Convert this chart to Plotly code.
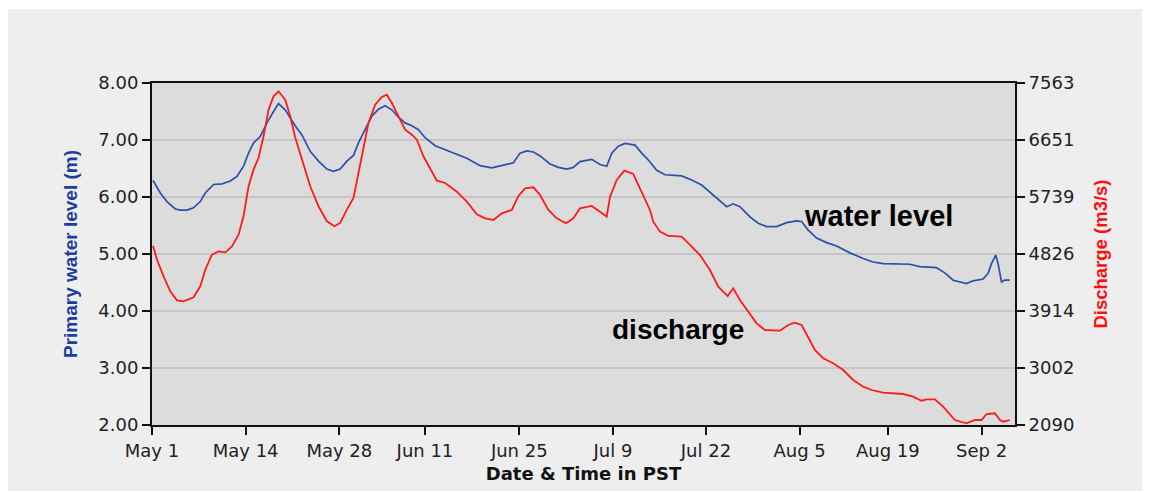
import plotly.graph_objects as go

# ---- data (x in days since May 1, 00:00) ----
level_days = [0.15, 1.24, 2.24, 3.48, 4.23, 5.23, 6.21, 7.22, 7.96, 9.20, 10.46, 11.70, 12.70, 13.68,
              14.43, 15.18, 16.18, 17.18, 18.17, 18.91, 19.91, 20.91, 21.40, 22.41, 23.65, 24.89,
              26.14, 27.13, 28.13, 29.13, 30.12, 30.86, 31.86, 32.87, 33.85, 34.85, 35.85, 36.84,
              37.84, 38.84, 39.83, 40.83, 42.32, 43.82, 45.06, 47.06, 49.04, 50.79, 52.52, 54.02,
              55.02, 56.02, 57.01, 58.01, 59.50, 60.74, 62.00, 62.98, 63.98, 65.73, 66.97, 67.97,
              68.72, 69.70, 70.70, 72.20, 73.20, 74.19, 75.44, 76.68, 79.17, 80.67, 82.16, 83.66,
              84.90, 85.90, 86.88, 87.88, 89.38, 90.62, 91.87, 93.37, 94.86, 96.36, 97.10, 98.09,
              99.34, 100.84, 102.33, 104.32, 106.30, 107.80, 109.29, 113.28, 114.77, 117.27,
              118.51, 119.75, 121.75, 122.74, 124.23, 124.98, 125.48, 126.13, 126.47, 126.98,
              127.47, 128.22]
level_m = [6.29, 6.07, 5.92, 5.79, 5.77, 5.77, 5.81, 5.92, 6.07, 6.22, 6.23, 6.28, 6.36, 6.54,
           6.77, 6.95, 7.06, 7.30, 7.50, 7.64, 7.53, 7.33, 7.25, 7.09, 6.80, 6.63,
           6.49, 6.45, 6.49, 6.63, 6.73, 6.95, 7.18, 7.42, 7.54, 7.60, 7.53, 7.40,
           7.30, 7.25, 7.18, 7.04, 6.90, 6.83, 6.78, 6.68, 6.55, 6.51, 6.56, 6.60,
           6.77, 6.81, 6.79, 6.72, 6.58, 6.52, 6.49, 6.52, 6.62, 6.66, 6.57, 6.54,
           6.77, 6.89, 6.94, 6.91, 6.77, 6.65, 6.47, 6.39, 6.37, 6.30, 6.21, 6.06,
           5.92, 5.83, 5.88, 5.83, 5.65, 5.54, 5.48, 5.48, 5.55, 5.58, 5.57, 5.42,
           5.28, 5.20, 5.14, 5.02, 4.92, 4.86, 4.83, 4.82, 4.78, 4.76,
           4.67, 4.54, 4.48, 4.53, 4.56, 4.66, 4.83, 4.98, 4.83, 4.51,
           4.54, 4.54]

flow_days = [0.15, 0.75, 1.73, 2.73, 3.73, 4.72, 6.21, 7.22, 7.96, 8.96, 9.95, 10.95, 11.95, 12.94,
             13.68, 14.43, 15.18, 15.92, 16.67, 17.42, 18.17, 18.91, 19.91, 20.66, 21.41, 22.41,
             23.65, 24.89, 26.14, 27.28, 28.13, 29.13, 30.12, 30.86, 31.61, 32.36, 33.36, 34.36,
             35.11, 35.85, 36.84, 37.84, 38.84, 39.59, 40.57, 41.57, 42.58, 43.82, 45.56, 47.06,
             48.55, 49.79, 51.03, 52.29, 53.78, 54.77, 55.77, 57.01, 58.01, 59.25, 60.50, 61.89,
             62.98, 63.98, 65.73, 66.97, 67.97, 68.47, 69.47, 70.60, 71.94, 72.69, 73.69, 74.43,
             74.93, 75.93, 77.17, 79.17, 80.42, 81.91, 83.40, 84.64, 86.05, 86.88, 87.88, 89.12,
             90.38, 91.62, 93.86, 95.10, 96.10, 97.10, 98.09, 99.09, 100.33, 101.82, 103.32,
             104.81, 106.30, 107.56, 109.29, 112.28, 113.78, 115.03, 115.78, 117.02, 118.26,
             120.01, 121.75, 123.00, 124.00, 124.75, 126.00, 126.75, 127.25, 128.22]
flow_m3s = [4959, 4735, 4469, 4229, 4085, 4069, 4133, 4310, 4575, 4815, 4869, 4853, 4949, 5135,
            5430, 5910, 6176, 6363, 6710, 7136, 7350, 7430, 7296, 7030, 6690, 6336,
            5910, 5590, 5350, 5270, 5323, 5536, 5723, 6123, 6550, 6923, 7216, 7339,
            7376, 7243, 7030, 6816, 6736, 6656, 6390, 6203, 6000, 5963, 5824, 5664,
            5462, 5398, 5371, 5478, 5531, 5755, 5877, 5894, 5771, 5531, 5398, 5318,
            5398, 5558, 5595, 5504, 5424, 5744, 6011, 6160, 6107, 5931, 5691, 5531,
            5344, 5184, 5115, 5104, 4971, 4810, 4570, 4303, 4154, 4277, 4090, 3903,
            3717, 3610, 3599, 3690, 3727, 3690, 3503, 3290, 3157, 3077, 2970,
            2810, 2703, 2650, 2607, 2586, 2543, 2479, 2501, 2501, 2383,
            2170, 2117, 2170, 2170, 2266, 2277, 2170, 2143, 2170]

x_tick_vals = [0, 14.0, 28.0, 40.8, 54.9, 68.9, 82.8, 96.8, 110.0, 124.0]
x_tick_text = ["May 1", "May 14", "May 28", "Jun 11", "Jun 25", "Jul 9", "Jul 22", "Aug 5", "Aug 19", "Sep 2"]
y_tick_vals = [2, 3, 4, 5, 6, 7, 8]
y_tick_text = ["2.00", "3.00", "4.00", "5.00", "6.00", "7.00", "8.00"]
y2_tick_vals = [2090, 3002.17, 3914.33, 4826.5, 5738.67, 6650.83, 7563]
y2_tick_text = ["2090", "3002", "3914", "4826", "5739", "6651", "7563"]

fig = go.Figure()
fig.add_trace(go.Scatter(x=level_days, y=level_m, mode="lines", name="water level",
                         line=dict(color="#2a50ac", width=1.7)))
fig.add_trace(go.Scatter(x=flow_days, y=flow_m3s, mode="lines", name="discharge", yaxis="y2",
                         line=dict(color="#ff1a1a", width=1.8)))

tickfont = dict(family="DejaVu Sans", size=18, color="#222222")

fig.update_layout(
    width=1143, height=485,
    margin=dict(l=144, r=136, t=75, b=68, pad=0),
    paper_bgcolor="#eeeeee",
    plot_bgcolor="#dcdcdc",
    showlegend=False,
    xaxis=dict(range=[0, 129.0], tickmode="array", tickvals=x_tick_vals, ticktext=x_tick_text,
               showgrid=False, zeroline=False, showline=True, linecolor="#111111", linewidth=2,
               mirror=True, ticks="outside", ticklen=8, tickwidth=1.5, tickcolor="#111111",
               tickfont=tickfont, automargin=False,
               title=dict(text="<b>Date & Time in PST</b>", standoff=8,
                          font=dict(family="DejaVu Sans", size=18, color="#111111"))),
    yaxis=dict(range=[2, 8], tickmode="array", tickvals=y_tick_vals, ticktext=y_tick_text,
               showgrid=True, gridcolor="#c6c6c6", gridwidth=1.5, zeroline=False,
               showline=True, linecolor="#111111", linewidth=2, ticks="outside", ticklen=8,
               tickwidth=1.5, tickcolor="#111111", tickfont=tickfont, automargin=False,
               title=dict(text="<b>Primary water level (m)</b>", standoff=16,
                          font=dict(family="Liberation Sans", size=19, color="#1c3f9e"))),
    yaxis2=dict(range=[2090, 7563], overlaying="y", side="right", tickmode="array",
                tickvals=y2_tick_vals, ticktext=y2_tick_text, showgrid=False, zeroline=False,
                showline=True, linecolor="#111111", linewidth=2, ticks="outside", ticklen=8,
                tickwidth=1.5, tickcolor="#111111", tickfont=tickfont, automargin=False,
                title=dict(text="<b>Discharge (m3/s)</b>", standoff=21,
                           font=dict(family="Liberation Sans", size=18.5, color="#ff1010"))),
    shapes=[
        dict(type="rect", xref="paper", yref="paper", x0=-0.2, x1=1.2, y0=1.2164, y1=1.3,
             fillcolor="white", line=dict(width=0), layer="below"),
        dict(type="rect", xref="paper", yref="paper", x0=1.1472, x1=1.2, y0=-0.25, y1=1.3,
             fillcolor="white", line=dict(width=0), layer="below"),
        dict(type="rect", xref="paper", yref="paper", x0=-0.2, x1=1.2, y0=-0.25, y1=-0.1930,
             fillcolor="white", line=dict(width=0), layer="below"),
    ],
    annotations=[
        dict(x=108.65, y=5.667, xref="x", yref="y", text="<b>water level</b>", showarrow=False,
             xanchor="center", yanchor="middle",
             font=dict(family="Liberation Sans", size=29, color="#000000")),
        dict(x=78.62, y=3.667, xref="x", yref="y", text="<b>discharge</b>", showarrow=False,
             xanchor="center", yanchor="middle",
             font=dict(family="Liberation Sans", size=28, color="#000000")),
    ],
)

fig.write_html("out.html")
